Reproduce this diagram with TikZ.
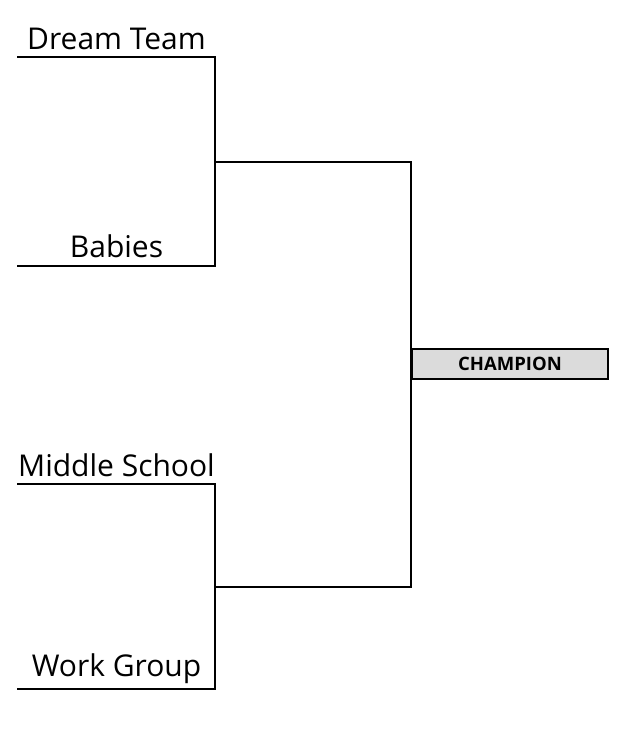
\documentclass[tikz,border=0pt]{standalone}
\usepackage{fontspec}
\setmainfont{Open Sans}
\usepackage{tikz}
\usetikzlibrary{positioning,calc}
\tikzset{
  bracket/.style={line width=2pt, draw=black, line cap=rect},
  team/.style={font=\fontsize{30}{34}\selectfont, inner sep=0pt, anchor=base},
  champbox/.style={rectangle, draw=black, line width=2pt, fill=black!14,
                   minimum width=196pt, minimum height=30pt, inner sep=0pt,
                   font=\bfseries\fontsize{18.5}{20}\selectfont},
}
\begin{document}
\begin{tikzpicture}[x=1pt, y=-1pt]
  \useasboundingbox (0,0) rectangle (635,742);
  % first round, top half
  \coordinate (dt-l) at (18,57);  \coordinate (dt-r) at (215,57);
  \coordinate (bb-l) at (18,266); \coordinate (bb-r) at (215,266);
  \coordinate (semi1) at (215,162); \coordinate (semi1-r) at (411,162);
  % first round, bottom half
  \coordinate (ms-l) at (18,484); \coordinate (ms-r) at (215,484);
  \coordinate (wg-l) at (18,689); \coordinate (wg-r) at (215,689);
  \coordinate (semi2) at (215,587); \coordinate (semi2-r) at (411,587);

  \draw[bracket] (dt-l) -- (dt-r) -- (bb-r) -- (bb-l);
  \draw[bracket] (ms-l) -- (ms-r) -- (wg-r) -- (wg-l);
  \draw[bracket] (semi1) -- (semi1-r) -- (semi2-r) -- (semi2);

  % final
  \node[champbox, anchor=west] (champ) at (411,364) {CHAMPION};

  % team names
  \node[team] (dream) at ($(dt-l)!0.5!(dt-r)+(0,-8)$) {Dream Team};
  \node[team] (babies) at ($(bb-l)!0.5!(bb-r)+(0,-9)$) {Babies};
  \node[team] (middle) at ($(ms-l)!0.5!(ms-r)+(0,-8)$) {Middle School};
  \node[team] (work) at ($(wg-l)!0.5!(wg-r)+(0,-13)$) {Work Group};
\end{tikzpicture}
\end{document}
